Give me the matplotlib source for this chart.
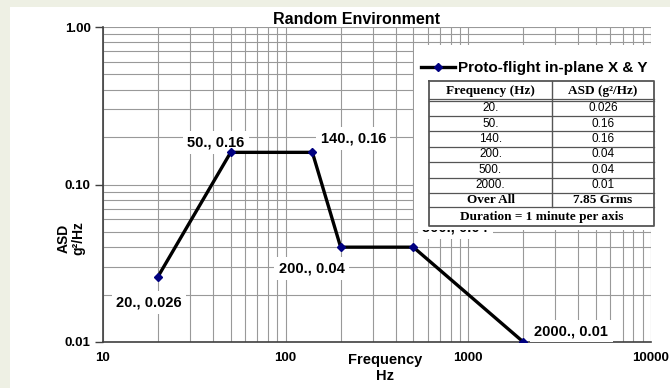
import matplotlib
matplotlib.use("Agg")
import matplotlib.pyplot as plt
from matplotlib.patches import Rectangle
from matplotlib.ticker import NullFormatter

# data
freq = [20, 50, 140, 200, 500, 2000]
asd = [0.026, 0.16, 0.16, 0.04, 0.04, 0.01]
series_name = "Proto-flight in-plane X & Y"
overall_label = "Over All"
overall_value = "7.85 Grms"
duration_text = "Duration = 1 minute per axis"
table_header = ["Frequency (Hz)", "ASD (g\u00b2/Hz)"]
x_ticks = [10, 100, 1000, 10000]
y_ticks = [0.01, 0.10, 1.00]

# label offsets (pixels) from each point
label_offsets = [(-9, -26), (-15, 10), (41, 14), (-29, -21), (42, 20), (48, 11)]

W, H = 670, 388
SANS = "Liberation Sans"
SERIF = "Liberation Serif"

fig = plt.figure(figsize=(W / 100, H / 100), dpi=100, facecolor="#eef0e4")
fig.add_artist(Rectangle((10 / W, 0), 660 / W, 381 / H, transform=fig.transFigure,
                         facecolor="white", edgecolor="none", zorder=-1))

# - MAIN PLOT -
ax = fig.add_axes([103 / W, 1 - 342 / H, 548 / W, 315 / H])
ax.set_xscale("log")
ax.set_yscale("log")
ax.set_xlim(10, 10000)
ax.set_ylim(0.01, 1)
ax.set_axisbelow(True)
ax.grid(True, which="both", color="#999999", lw=0.8)

ax.set_xticks(x_ticks)
ax.set_xticklabels([str(v) for v in x_ticks])
ax.set_yticks(y_ticks)
ax.set_yticklabels(["%.2f" % v for v in y_ticks])
ax.xaxis.set_minor_formatter(NullFormatter())
ax.yaxis.set_minor_formatter(NullFormatter())
ax.tick_params(axis="x", which="both", length=0, pad=7)
ax.tick_params(axis="y", which="major", length=5.5, width=1, color="#404040", pad=3.5)
ax.tick_params(axis="y", which="minor", length=0)
for lab in ax.get_xticklabels() + ax.get_yticklabels():
    lab.set_fontfamily(SANS)
    lab.set_fontweight("bold")
    lab.set_fontsize(9.5)

for s in ["top", "right"]:
    ax.spines[s].set_visible(False)
for s in ["left", "bottom"]:
    ax.spines[s].set_color("#404040")
    ax.spines[s].set_linewidth(1.2)

line, = ax.plot(freq, asd, color="black", lw=2.4, marker="D", ms=4,
                mfc="#000080", mec="#000080", zorder=5, label=series_name)

for f, a, (dx, dy) in zip(freq, asd, label_offsets):
    ax.annotate("%d., %g" % (f, a), (f, a), xytext=(dx, dy), textcoords="offset pixels",
                ha="center", va="center", fontsize=10.5, fontweight="bold", family=SANS,
                bbox=dict(boxstyle="square,pad=0.3", fc="white", ec="none"), zorder=4)

fig.text(356 / W, 1 - 19 / H, "Random Environment", ha="center", va="center",
         fontsize=11.5, fontweight="bold", family=SANS)

ax.set_xlabel("Frequency\nHz", fontsize=10.5, fontweight="bold", family=SANS)
ax.xaxis.set_label_coords(0.515, -0.035)
ax.set_ylabel("ASD\ng\u00b2/Hz", fontsize=10, fontweight="bold", family=SANS, linespacing=1.0)
ax.yaxis.set_label_coords(-0.033, 0.33)

# - LEGEND + TABLE BOX (white panel hides the 500 Hz label) -
box_top, box_bot = 45, 230
tab = fig.add_axes([414 / W, 1 - box_bot / H, 246 / W, (box_bot - box_top) / H])
tab.set_xlim(414, 660)
tab.set_ylim(box_bot, box_top)
tab.axis("off")
tab.add_patch(Rectangle((414, box_top), 246, box_bot - box_top, fc="white", ec="none", zorder=0))

tab.legend(handles=[line], labels=[series_name], loc="center left",
           bbox_to_anchor=(0.03, (box_bot - 68) / (box_bot - box_top)), frameon=False,
           handlelength=2.2, handletextpad=0.2, borderpad=0, borderaxespad=0, numpoints=1,
           prop={"family": SANS, "weight": "bold", "size": 11})

left, mid, right = 429, 552, 654
top, head_bot = 81, 100.5
row_h = 15.4
rows_bot = head_bot + row_h * len(freq)
over_bot = rows_bot + 14.5
bottom = 226
edge = "#555555"

tab.plot([left, right, right, left, left], [top, top, bottom, bottom, top], color=edge, lw=1.3, zorder=3)
tab.plot([mid, mid], [top, over_bot], color=edge, lw=1, zorder=3)
tab.plot([left, right], [head_bot - 1.5, head_bot - 1.5], color=edge, lw=0.9, zorder=3)
tab.plot([left, right], [head_bot + 0.8, head_bot + 0.8], color=edge, lw=0.9, zorder=3)
for i in range(1, len(freq) + 2):
    yy = head_bot + row_h * i if i <= len(freq) else over_bot
    tab.plot([left, right], [yy, yy], color=edge, lw=0.9, zorder=3)

tab.text((left + mid) / 2, (top + head_bot) / 2, table_header[0], ha="center", va="center",
         fontsize=9.5, fontweight="bold", family=SERIF)
tab.text((mid + right) / 2, (top + head_bot) / 2, table_header[1], ha="center", va="center",
         fontsize=9.5, fontweight="bold", family=SERIF)
for i, (f, a) in enumerate(zip(freq, asd)):
    yc = head_bot + row_h * (i + 0.5)
    tab.text((left + mid) / 2, yc, "%d." % f, ha="center", va="center", fontsize=8.5, family=SANS)
    tab.text((mid + right) / 2, yc, "%g" % a, ha="center", va="center", fontsize=8.5, family=SANS)
tab.text((left + mid) / 2, (rows_bot + over_bot) / 2, overall_label, ha="center", va="center",
         fontsize=9.5, fontweight="bold", family=SERIF)
tab.text((mid + right) / 2, (rows_bot + over_bot) / 2, overall_value, ha="center", va="center",
         fontsize=9.5, fontweight="bold", family=SERIF)
tab.text((left + right) / 2, (over_bot + bottom) / 2, duration_text, ha="center", va="center",
         fontsize=9.5, fontweight="bold", family=SERIF)

fig.savefig("out.png", dpi=100, facecolor=fig.get_facecolor())
